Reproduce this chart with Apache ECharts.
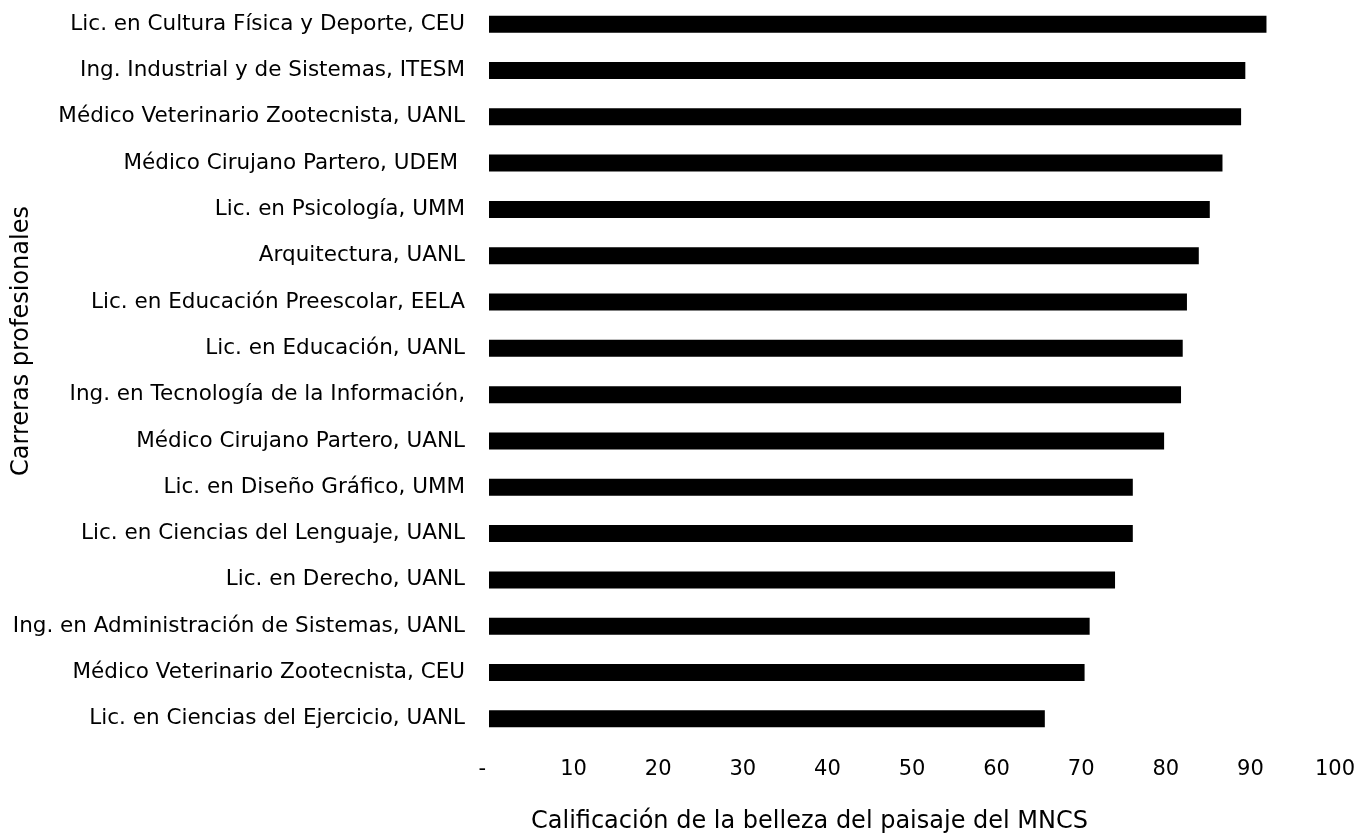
<!DOCTYPE html>
<html>
<head>
<meta charset="utf-8">
<script src="https://cdn.jsdelivr.net/npm/echarts@6/dist/echarts.min.js"></script>
<style>
html,body{margin:0;padding:0;background:#fff;}
#chart{width:1359px;height:833px;}
</style>
</head>
<body>
<div id="chart"></div>
<script>
const categories = [
  "Lic. en Cultura Física y Deporte, CEU",
  "Ing. Industrial y de Sistemas, ITESM",
  "Médico Veterinario Zootecnista, UANL",
  "Médico Cirujano Partero, UDEM ",
  "Lic. en Psicología, UMM",
  "Arquitectura, UANL",
  "Lic. en Educación Preescolar, EELA",
  "Lic. en Educación, UANL",
  "Ing. en Tecnología de la Información,",
  "Médico Cirujano Partero, UANL",
  "Lic. en Diseño Gráfico, UMM",
  "Lic. en Ciencias del Lenguaje, UANL",
  "Lic. en Derecho, UANL",
  "Ing. en Administración de Sistemas, UANL",
  "Médico Veterinario Zootecnista, CEU",
  "Lic. en Ciencias del Ejercicio, UANL"
];
const values = [91.9, 89.4, 88.9, 86.7, 85.2, 83.9, 82.5, 82.0, 81.8, 79.8, 76.1, 76.1, 74.0, 71.0, 70.4, 65.7];
const xTickLabels = {0: "-  "};
const xTitle = "Calificación de la belleza del paisaje del MNCS";
const yTitle = "Carreras profesionales";

const FONT = "DejaVu Sans";
const chart = echarts.init(document.getElementById('chart'), null, {renderer: 'canvas'});
chart.setOption({
  animation: false,
  backgroundColor: '#ffffff',
  grid: {left: 489, right: 24, top: 1, bottom: 91, containLabel: false},
  xAxis: {
    type: 'value', min: 0, max: 100, interval: 10,
    axisLine: {show: false}, axisTick: {show: false}, splitLine: {show: false},
    axisLabel: {
      color: '#000', fontFamily: FONT, fontSize: 21, margin: 17,
      formatter: v => (xTickLabels[v] !== undefined ? xTickLabels[v] : String(v))
    }
  },
  yAxis: {
    type: 'category', data: categories, inverse: true,
    axisLine: {show: false}, axisTick: {show: false}, splitLine: {show: false},
    axisLabel: {color: '#000', fontFamily: FONT, fontSize: 21.5, margin: 24}
  },
  series: [{
    type: 'bar', data: values, barWidth: 17,
    itemStyle: {color: '#000'}
  }],
  graphic: [
    {type: 'text', x: 531, y: 822,
     style: {text: xTitle, fill: '#000', font: '24px "DejaVu Sans"', textAlign: 'left', textVerticalAlign: 'middle'}},
    {type: 'text', x: 22, y: 341, rotation: Math.PI / 2,
     style: {text: yTitle, fill: '#000', font: '24px "DejaVu Sans"', textAlign: 'center', textVerticalAlign: 'middle'}}
  ]
});
</script>
</body>
</html>
